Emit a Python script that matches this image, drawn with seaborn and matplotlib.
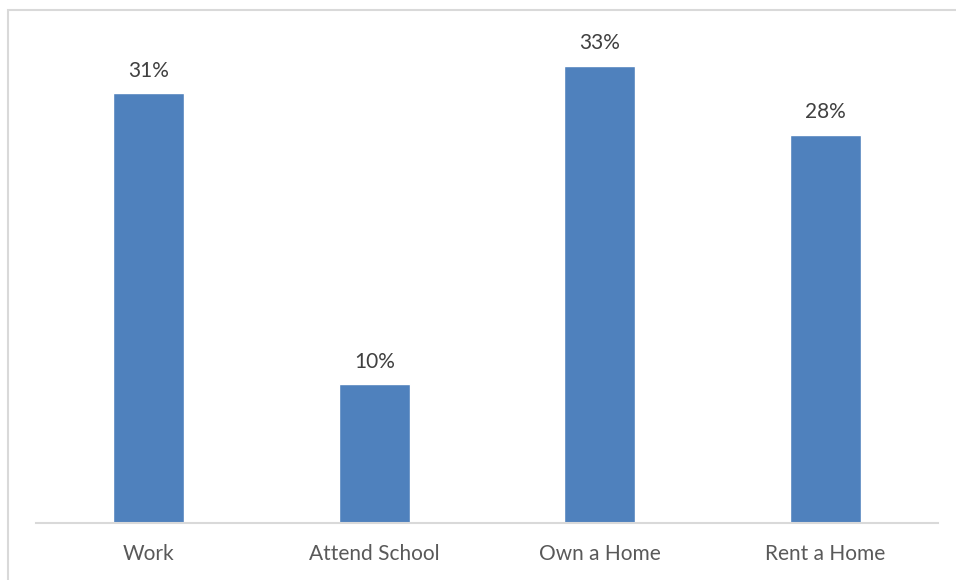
import matplotlib
matplotlib.use("Agg")
import matplotlib.pyplot as plt
import seaborn as sns
import pandas as pd
from matplotlib.patches import Rectangle

categories = ["Work", "Attend School", "Own a Home", "Rent a Home"]
shares = [0.31, 0.10, 0.33, 0.28]
labels = ["31%", "10%", "33%", "28%"]

df = pd.DataFrame({"category": categories, "share": shares})

sns.set_theme(style="white")
plt.rcParams["font.family"] = ["Lato", "DejaVu Sans"]

W, H, DPI = 956, 580, 100
fig = plt.figure(figsize=(W / DPI, H / DPI), dpi=DPI)
fig.patch.set_facecolor("white")

# chart frame that runs off the right and bottom edges
fig.add_artist(Rectangle((7.5 / W, -0.05), 1.0, 1 - 9.5 / H + 0.05,
                         transform=fig.transFigure, fill=False,
                         edgecolor="#d9d9d9", linewidth=1.5))

left, right = 36 / W, 938 / W
bottom, top = 1 - 523 / H, 1 - 38 / H
ax = fig.add_axes([left, bottom, right - left, top - bottom])

sns.barplot(data=df, x="category", y="share", color="#4f81bd",
            saturation=1, width=0.315, ax=ax)

ax.set_ylim(0, 0.35)
ax.set_xlim(-0.5, len(categories) - 0.5)
ax.set_xlabel("")
ax.set_ylabel("")
ax.set_yticks([])
for s in ["top", "right", "left"]:
    ax.spines[s].set_visible(False)
ax.spines["bottom"].set_color("#d9d9d9")
ax.spines["bottom"].set_linewidth(1.5)
ax.tick_params(axis="x", length=0, pad=15, labelsize=15, labelcolor="#595959")

for i, (v, lab) in enumerate(zip(shares, labels)):
    ax.annotate(lab, (i, v), xytext=(0, 9), textcoords="offset points",
                ha="center", va="bottom", fontsize=15, color="#404040")

fig.savefig("out.png", dpi=DPI, facecolor="white")
